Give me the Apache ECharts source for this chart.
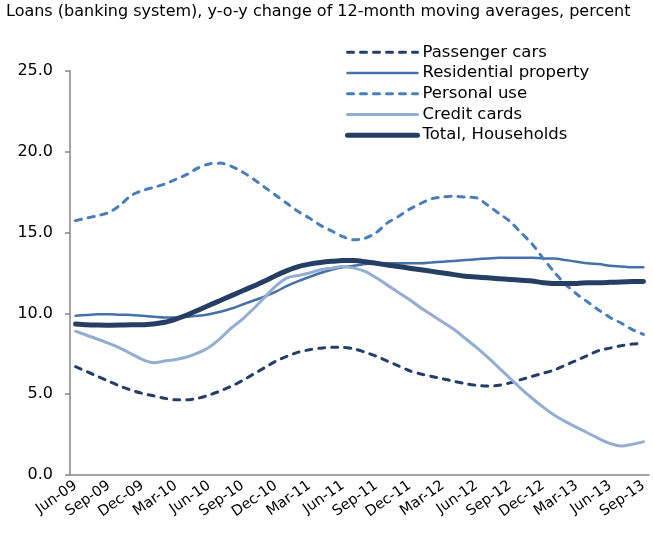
<!DOCTYPE html>
<html>
<head>
<meta charset="utf-8">
<script src="https://cdn.jsdelivr.net/npm/echarts@6/dist/echarts.min.js"></script>
<style>
  html, body { margin: 0; padding: 0; background: #fff; }
  #chart { width: 653px; height: 533px; }
</style>
</head>
<body>
<div id="chart"></div>
<script>
  // months Jun-09 .. Sep-13
  const monthNames = ["Jan", "Feb", "Mar", "Apr", "May", "Jun", "Jul", "Aug", "Sep", "Oct", "Nov", "Dec"];
  const months = [];
  for (let y = 2009, m = 5; y < 2013 || (y === 2013 && m <= 8); m++) {
    if (m === 12) { m = 0; y++; }
    months.push(monthNames[m] + "-" + String(y).slice(2));
  }

  const passengerCars = [
    6.7, 6.4, 6.1, 5.8, 5.5, 5.25, 5.05, 4.9, 4.75, 4.65, 4.65, 4.75, 4.95,
    5.2, 5.5, 5.85, 6.25, 6.65, 7.05, 7.35, 7.6, 7.75, 7.85, 7.9, 7.9, 7.8,
    7.6, 7.35, 7.05, 6.75, 6.45, 6.25, 6.1, 5.95, 5.8, 5.65, 5.55, 5.5, 5.55,
    5.7, 5.9, 6.1, 6.3, 6.5, 6.8, 7.1, 7.4, 7.7, 7.85, 8.0, 8.1, 8.15
  ];
  const residential = [
    9.85, 9.9, 9.95, 9.95, 9.92, 9.9, 9.85, 9.8, 9.75, 9.75, 9.8, 9.85, 9.95,
    10.1, 10.3, 10.55, 10.8, 11.05, 11.35, 11.7, 12.0, 12.25, 12.5, 12.7, 12.85, 12.95,
    13.05, 13.1, 13.1, 13.1, 13.1, 13.1, 13.15, 13.2, 13.25, 13.3, 13.35, 13.4, 13.45,
    13.45, 13.45, 13.45, 13.4, 13.4, 13.3, 13.2, 13.1, 13.05, 12.95, 12.9, 12.85, 12.85
  ];
  const personalUse = [
    15.74, 15.9, 16.05, 16.25, 16.7, 17.3, 17.6, 17.8, 18.0, 18.3, 18.6, 19.0, 19.25,
    19.3, 19.1, 18.75, 18.3, 17.8, 17.3, 16.8, 16.3, 15.9, 15.45, 15.1, 14.75, 14.55,
    14.65, 15.0, 15.6, 16.0, 16.45, 16.8, 17.1, 17.2, 17.25, 17.2, 17.15, 16.7, 16.2,
    15.7, 15.0, 14.3, 13.4, 12.55, 11.8, 11.2, 10.7, 10.2, 9.75, 9.4, 9.0, 8.7
  ];
  const creditCards = [
    8.9, 8.65, 8.4, 8.15, 7.85, 7.5, 7.15, 6.95, 7.05, 7.15, 7.3, 7.55, 7.9,
    8.45, 9.1, 9.65, 10.3, 11.0, 11.7, 12.2, 12.35, 12.5, 12.7, 12.8, 12.9, 12.8,
    12.6, 12.2, 11.75, 11.3, 10.85, 10.35, 9.9, 9.45, 9.0, 8.45, 7.9, 7.3, 6.65,
    6.0, 5.35, 4.75, 4.2, 3.7, 3.3, 2.95, 2.6, 2.25, 1.95, 1.8, 1.9, 2.05
  ];
  const totalHouseholds = [
    9.35, 9.3, 9.28, 9.27, 9.28, 9.3, 9.3, 9.35, 9.45, 9.65, 9.9, 10.2, 10.5,
    10.8, 11.1, 11.4, 11.7, 12.0, 12.35, 12.65, 12.9, 13.05, 13.15, 13.22, 13.27, 13.27,
    13.2, 13.1, 13.0, 12.9, 12.8, 12.7, 12.6, 12.5, 12.4, 12.3, 12.25, 12.2, 12.15,
    12.1, 12.05, 12.0, 11.9, 11.85, 11.85, 11.85, 11.9, 11.9, 11.92, 11.95, 11.97, 11.98
  ];

  const font = "DejaVu Sans";

  function lineSeries(name, data, color, width, dashed) {
    return {
      name: name,
      type: "line",
      data: data,
      symbol: "none",
      smooth: 0.3,
      lineStyle: {
        color: color,
        width: width,
        type: dashed ? [6, 7] : "solid",
        cap: "round",
        join: "round",
      },
      itemStyle: { color: color },
    };
  }

  const chart = echarts.init(document.getElementById("chart"), null, { renderer: "canvas" });
  chart.setOption({
    animation: false,
    backgroundColor: "#fff",
    title: {
      text: "Loans (banking system), y-o-y change of 12-month moving averages, percent",
      left: 6,
      top: 4,
      padding: 0,
      textStyle: { fontFamily: font, fontSize: 16, fontWeight: "normal", color: "#000" },
    },
    legend: {
      orient: "vertical",
      left: 345,
      top: 42,
      padding: 0,
      itemGap: 0,
      itemWidth: 70,
      itemHeight: 14,
      itemStyle: { opacity: 0 },
      lineStyle: { width: "inherit" },
      textStyle: { fontFamily: font, fontSize: 16.5, color: "#000", lineHeight: 20.7 },
      data: ["Passenger cars", "Residential property", "Personal use", "Credit cards", "Total, Households"],
    },
    grid: { left: 70, right: 4, top: 71, bottom: 58 },
    xAxis: {
      type: "category",
      data: months,
      boundaryGap: true,
      axisLine: { lineStyle: { color: "#868686", width: 1.5 } },
      axisTick: { interval: 2, length: 5, lineStyle: { color: "#868686", width: 1.5 } },
      axisLabel: {
        interval: 2,
        rotate: 35,
        margin: 9,
        fontFamily: font,
        fontSize: 14.5,
        color: "#000",
      },
    },
    yAxis: {
      type: "value",
      min: 0,
      max: 25,
      interval: 5,
      splitLine: { show: false },
      axisLine: { show: true, lineStyle: { color: "#868686", width: 1.5 } },
      axisTick: { show: true, length: 5, lineStyle: { color: "#868686", width: 1.5 } },
      axisLabel: {
        margin: 17,
        fontFamily: font,
        fontSize: 16,
        color: "#000",
        formatter: (v) => v.toFixed(1),
      },
    },
    series: [
      lineSeries("Passenger cars", passengerCars, "#243f66", 3, true),
      lineSeries("Residential property", residential, "#4471a7", 2.5, false),
      lineSeries("Personal use", personalUse, "#4a7ebb", 3, true),
      lineSeries("Credit cards", creditCards, "#93add3", 3, false),
      lineSeries("Total, Households", totalHouseholds, "#243f63", 5, false),
    ],
  });
</script>
</body>
</html>
